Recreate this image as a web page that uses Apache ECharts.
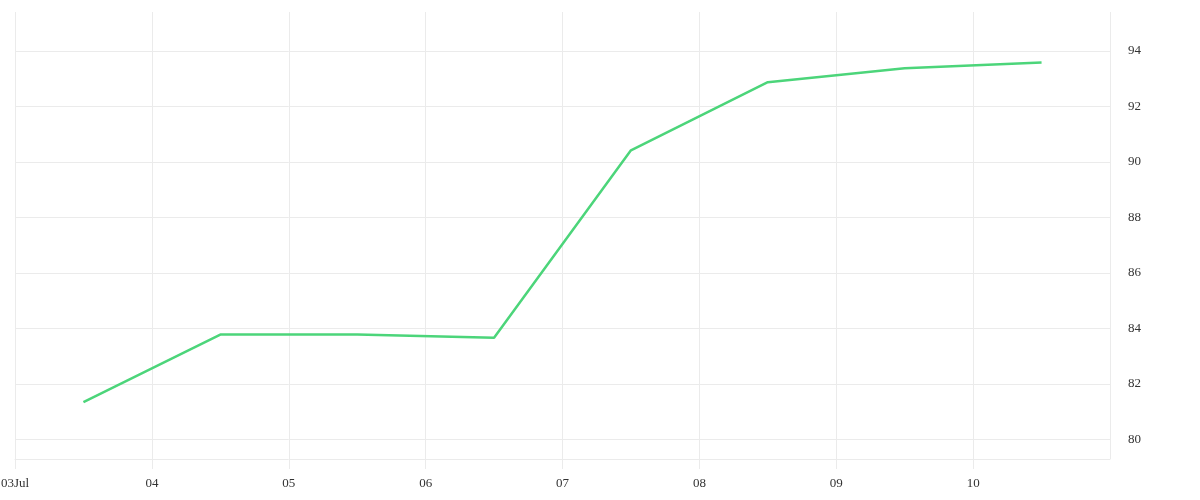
<!DOCTYPE html>
<html>
<head>
<meta charset="utf-8">
<script src="https://cdn.jsdelivr.net/npm/echarts@6/dist/echarts.min.js"></script>
<style>html,body{margin:0;padding:0;background:#fff}#c{width:1200px;height:500px}</style>
</head>
<body>
<div id="c"></div>
<script>
const dates = ['2024-07-03T12:00:00Z','2024-07-04T12:00:00Z','2024-07-05T12:00:00Z','2024-07-06T12:00:00Z','2024-07-07T12:00:00Z','2024-07-08T12:00:00Z','2024-07-09T12:00:00Z','2024-07-10T12:00:00Z'];
const values = [81.35, 83.78, 83.78, 83.67, 90.42, 92.87, 93.37, 93.58];
const xStart = '2024-07-03T00:00:00Z';
const xEnd = '2024-07-11T00:00:00Z';
const yTicks = [80, 82, 84, 86, 88, 90, 92, 94];

const DAY = 86400000;
const t = s => Date.parse(s);
const firstDay = t(xStart);
const chart = echarts.init(document.getElementById('c'));
const fontFamily = 'Liberation Serif';
chart.setOption({
  animation: false,
  grid: { left: 15, right: 90, top: 12, bottom: 41, containLabel: false, outerBoundsMode: 'none' },
  xAxis: {
    type: 'value',
    min: t(xStart),
    max: t(xEnd),
    interval: DAY,
    axisLine: { show: true, lineStyle: { color: '#ebebeb', width: 1 } },
    axisTick: { show: true, length: 10, lineStyle: { color: '#ebebeb' } },
    splitLine: { show: true, lineStyle: { color: '#ebebeb', width: 1 } },
    axisLabel: {
      margin: 18,
      color: '#333',
      fontFamily: fontFamily,
      fontSize: 13,
      showMaxLabel: false,
      formatter: function (v) {
        const d = new Date(v);
        const dd = String(d.getUTCDate()).padStart(2, '0');
        return Math.abs(v - firstDay) < 3600000 ? dd + 'Jul' : dd;
      }
    }
  },
  yAxis: {
    type: 'value',
    position: 'right',
    min: 79.3,
    max: 95.4,
    axisLine: { show: false },
    axisTick: { show: false, customValues: yTicks },
    splitLine: { show: true, lineStyle: { color: '#ebebeb', width: 1 } },
    axisLabel: {
      customValues: yTicks,
      margin: 18,
      color: '#333',
      fontFamily: fontFamily,
      fontSize: 13,
      padding: [3, 0, 0, 0]
    }
  },
  series: [{
    type: 'line',
    data: dates.map((d, i) => [t(d), values[i]]),
    showSymbol: false,
    lineStyle: { color: '#4cd57a', width: 2.5 },
    itemStyle: { color: '#4cd57a' }
  }]
});
</script>
</body>
</html>
